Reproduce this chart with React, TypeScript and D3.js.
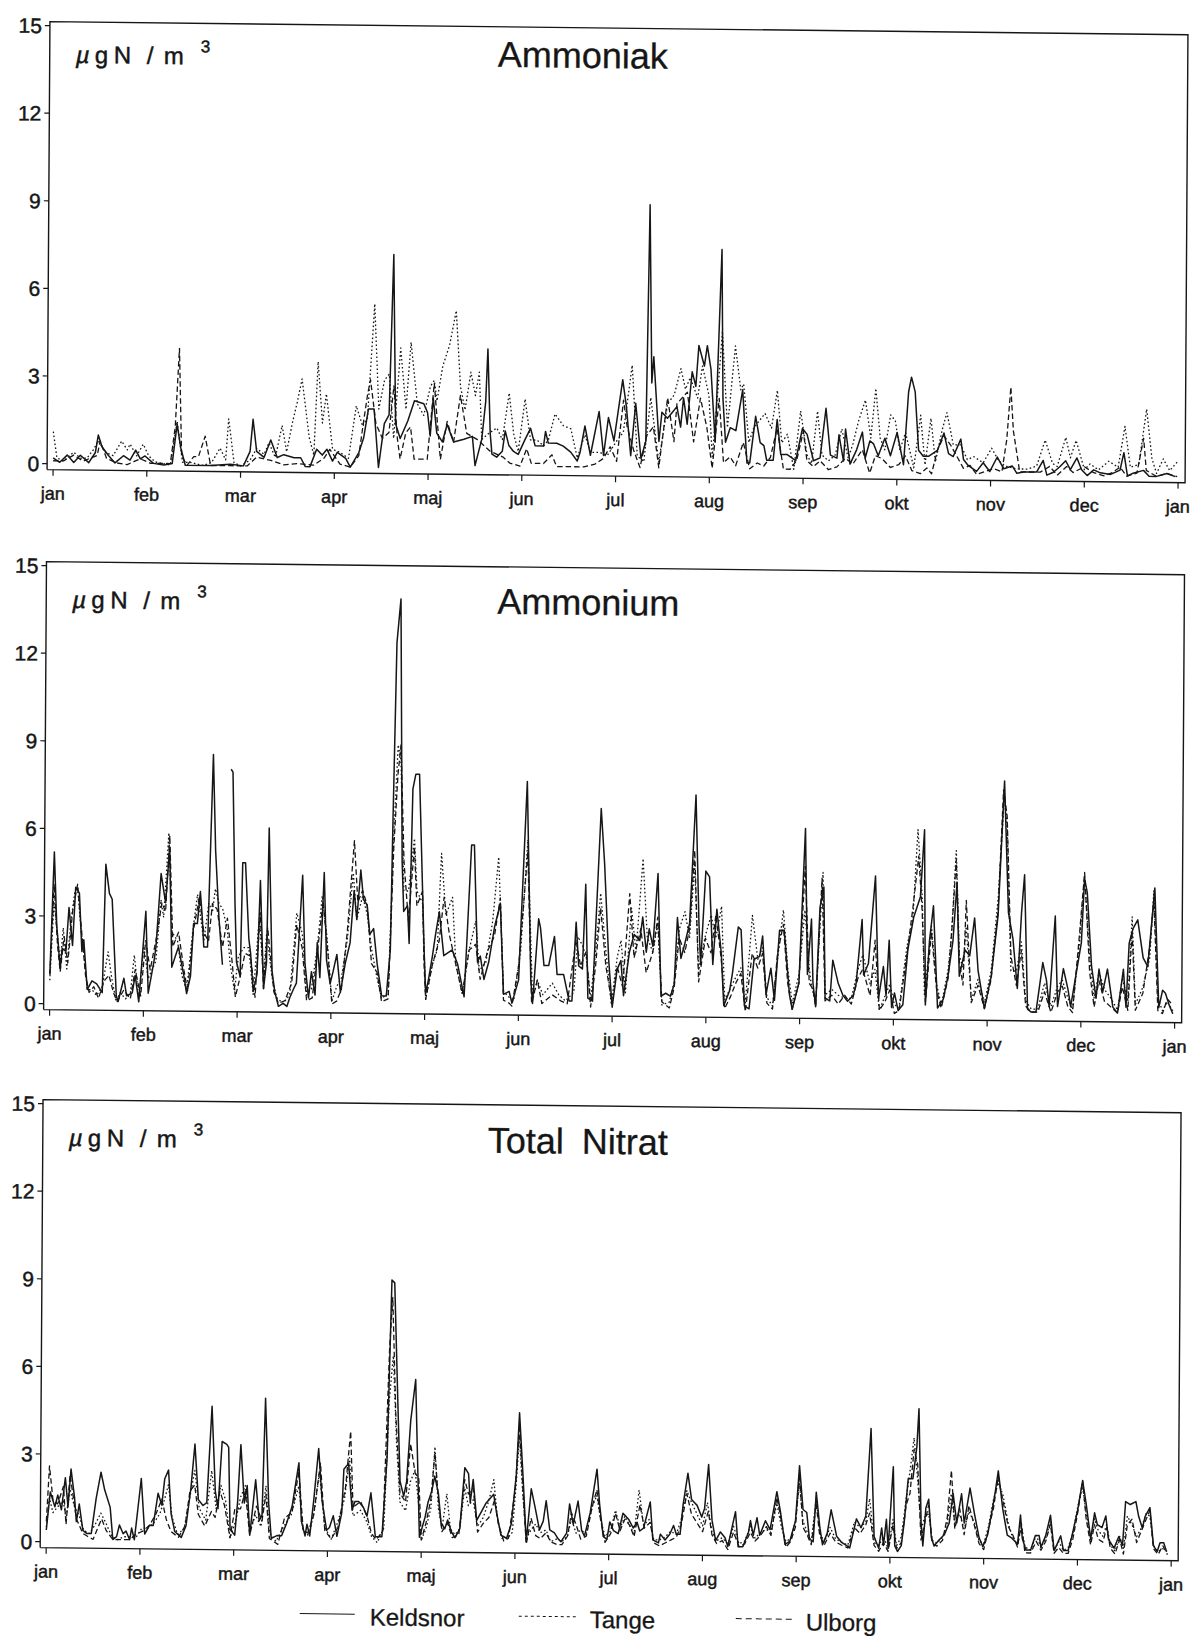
import React from "react";
import * as d3 from "d3";

// ---- data -------------------------------------------------------------
// x = position in months from 1 January (0 = jan, 12 = next jan); y = µgN/m³
type Pt = [number, number | null];

const MONTH_LABELS = ["jan", "feb", "mar", "apr", "maj", "jun", "jul", "aug", "sep", "okt", "nov", "dec", "jan"];
const Y_TICKS = [0, 3, 6, 9, 12, 15];
const STATIONS = ["Keldsnor", "Tange", "Ulborg"];
const TITLES = ["Ammoniak", "Ammonium", "Total Nitrat"];

const ammoniakKeldsnor: Pt[] = [[0.00,0.2],[0.07,0.05],[0.15,0.3],[0.22,0.05],[0.29,0.3],[0.38,0.05],[0.45,0.4],[0.48,1.0],[0.52,0.6],[0.59,0.3],[0.66,0.05],[0.75,0.3],[0.82,0.15],[0.88,0.5],[0.93,0.2],[0.98,0.3],[1.07,0.05],[1.18,0.0],[1.27,0.05],[1.32,1.4],[1.36,0.6],[1.41,0.0],[1.68,0.0],[1.89,0.05],[2.03,0.0],[2.10,0.5],[2.13,1.6],[2.17,0.5],[2.25,0.3],[2.32,0.9],[2.39,0.3],[2.46,0.4],[2.57,0.3],[2.64,0.3],[2.69,0.0],[2.74,0.0],[2.81,0.6],[2.87,0.4],[2.92,0.6],[2.98,0.2],[3.03,0.5],[3.12,0.3],[3.17,0.0],[3.26,0.5],[3.31,1.0],[3.36,2.0],[3.42,2.0],[3.47,0.0],[3.53,1.5],[3.58,1.8],[3.62,7.3],[3.65,1.5],[3.70,1.0],[3.78,1.6],[3.85,2.3],[3.95,2.2],[3.99,1.9],[4.02,1.1],[4.05,2.4],[4.09,1.2],[4.15,0.9],[4.20,1.5],[4.27,0.9],[4.38,1.0],[4.47,1.1],[4.50,0.1],[4.57,1.0],[4.61,2.3],[4.63,4.1],[4.66,1.2],[4.68,0.5],[4.73,0.4],[4.79,0.6],[4.82,1.3],[4.86,0.8],[4.91,0.6],[4.96,0.5],[5.03,1.0],[5.09,1.4],[5.14,0.8],[5.23,0.8],[5.25,1.3],[5.28,0.9],[5.37,0.9],[5.44,0.8],[5.52,0.6],[5.59,0.3],[5.62,0.6],[5.67,1.5],[5.73,0.5],[5.82,2.0],[5.87,0.5],[5.92,1.8],[5.98,1.0],[6.07,3.1],[6.11,2.2],[6.16,0.5],[6.21,2.3],[6.27,0.4],[6.32,1.0],[6.35,9.1],[6.38,3.0],[6.40,3.9],[6.46,1.0],[6.49,2.0],[6.55,1.8],[6.60,2.0],[6.65,2.2],[6.69,1.5],[6.72,2.5],[6.76,1.6],[6.81,3.4],[6.85,2.9],[6.88,4.3],[6.94,3.6],[6.97,4.3],[7.01,3.5],[7.06,1.0],[7.12,7.6],[7.14,2.5],[7.17,1.0],[7.22,1.5],[7.28,1.4],[7.35,2.8],[7.40,0.3],[7.43,0.3],[7.49,1.9],[7.54,1.0],[7.58,0.9],[7.61,0.4],[7.68,0.4],[7.72,1.8],[7.76,0.6],[7.83,0.6],[7.92,0.4],[7.99,1.5],[8.04,1.3],[8.11,0.4],[8.18,0.5],[8.24,2.2],[8.29,0.6],[8.36,0.5],[8.38,1.3],[8.43,0.4],[8.45,1.5],[8.50,0.3],[8.57,0.8],[8.63,1.4],[8.66,0.5],[8.71,1.1],[8.75,1.0],[8.80,0.6],[8.87,1.2],[8.93,0.6],[9.00,1.4],[9.07,0.3],[9.12,2.8],[9.15,3.3],[9.19,2.8],[9.23,0.8],[9.28,0.6],[9.34,0.6],[9.43,0.8],[9.50,1.4],[9.55,0.7],[9.60,0.6],[9.68,1.2],[9.71,0.5],[9.76,0.3],[9.85,0.1],[9.92,0.4],[9.99,0.1],[10.07,0.6],[10.14,0.2],[10.23,0.3],[10.28,0.05],[10.35,0.1],[10.49,0.1],[10.56,0.5],[10.60,0.0],[10.67,0.1],[10.74,0.3],[10.80,0.5],[10.85,0.2],[10.92,0.6],[10.97,0.2],[11.03,0.0],[11.10,0.2],[11.17,0.1],[11.28,0.05],[11.38,0.2],[11.42,0.8],[11.46,0.0],[11.52,0.1],[11.63,0.2],[11.69,0.0],[11.77,0.0],[11.88,0.1],[11.97,0.0]];

const ammoniakTange: Pt[] = [[0.00,1.1],[0.04,0.2],[0.11,0.1],[0.22,0.4],[0.29,0.2],[0.36,0.2],[0.43,0.5],[0.48,0.8],[0.56,0.4],[0.64,0.3],[0.73,0.8],[0.79,0.5],[0.82,0.7],[0.89,0.3],[0.96,0.7],[1.02,0.3],[1.09,0.1],[1.25,0.0],[1.32,1.5],[1.38,0.1],[1.46,0.1],[1.60,0.0],[1.69,0.1],[1.78,0.6],[1.84,0.2],[1.87,1.6],[1.93,0.1],[2.00,0.0],[2.10,0.2],[2.17,0.6],[2.25,0.4],[2.30,0.8],[2.37,0.3],[2.44,1.4],[2.49,0.5],[2.55,1.5],[2.60,2.2],[2.65,3.0],[2.73,1.0],[2.78,0.4],[2.82,3.6],[2.87,1.5],[2.91,2.5],[2.98,0.6],[3.06,0.5],[3.15,0.3],[3.23,2.1],[3.30,1.4],[3.35,1.7],[3.42,5.6],[3.47,2.0],[3.53,3.0],[3.58,3.2],[3.63,1.0],[3.70,4.1],[3.76,2.0],[3.81,4.3],[3.88,2.2],[3.95,1.8],[4.02,2.8],[4.06,3.0],[4.09,2.3],[4.15,3.5],[4.22,4.2],[4.29,5.4],[4.34,2.8],[4.39,2.0],[4.45,3.3],[4.50,2.5],[4.54,3.3],[4.57,1.0],[4.64,1.2],[4.73,1.4],[4.79,1.0],[4.86,2.6],[4.91,1.2],[4.96,0.6],[5.03,2.4],[5.09,1.0],[5.16,1.0],[5.23,0.8],[5.28,1.0],[5.35,1.9],[5.44,1.5],[5.52,1.4],[5.59,0.4],[5.67,1.2],[5.73,0.6],[5.83,0.6],[5.91,0.5],[6.01,1.0],[6.08,1.3],[6.17,3.6],[6.23,0.5],[6.30,0.3],[6.37,2.5],[6.46,0.3],[6.55,2.3],[6.62,2.6],[6.69,3.5],[6.74,2.8],[6.79,3.2],[6.87,2.5],[6.92,3.6],[6.99,2.6],[7.03,0.5],[7.08,2.5],[7.13,4.8],[7.19,1.5],[7.27,4.3],[7.33,2.8],[7.36,3.0],[7.42,1.0],[7.47,1.5],[7.59,2.0],[7.66,1.5],[7.72,2.8],[7.77,1.0],[7.83,1.3],[7.90,0.1],[7.97,2.1],[8.04,0.6],[8.09,0.3],[8.15,2.1],[8.20,0.6],[8.27,0.4],[8.34,0.6],[8.41,1.5],[8.48,0.5],[8.53,1.0],[8.59,1.8],[8.66,2.5],[8.72,1.2],[8.77,2.9],[8.82,1.2],[8.87,0.8],[8.93,2.0],[8.98,1.8],[9.03,0.8],[9.09,1.4],[9.18,0.2],[9.25,2.0],[9.30,0.3],[9.36,1.9],[9.41,0.4],[9.48,1.5],[9.53,2.1],[9.60,1.0],[9.68,1.0],[9.75,0.5],[9.82,0.6],[9.92,0.4],[10.01,0.9],[10.08,0.5],[10.15,0.3],[10.28,0.2],[10.39,0.2],[10.49,0.3],[10.58,1.2],[10.66,0.4],[10.71,0.3],[10.80,1.3],[10.85,0.6],[10.91,1.2],[11.00,0.2],[11.06,0.4],[11.15,0.2],[11.26,0.5],[11.36,0.3],[11.43,1.7],[11.49,0.3],[11.58,0.4],[11.66,2.3],[11.72,0.6],[11.77,0.1],[11.84,0.6],[11.91,0.2],[11.99,0.5]];

const ammoniakUlborg: Pt[] = [[0.00,0.1],[0.11,0.1],[0.22,0.3],[0.32,0.1],[0.47,0.3],[0.50,0.8],[0.57,0.2],[0.68,0.05],[0.79,0.0],[0.86,0.1],[0.93,0.2],[1.04,0.05],[1.25,0.05],[1.30,1.3],[1.34,4.0],[1.37,0.3],[1.43,0.0],[1.50,0.3],[1.55,0.3],[1.62,1.0],[1.68,0.0],[1.89,0.0],[2.07,0.0],[2.17,0.3],[2.32,0.2],[2.46,0.05],[2.60,0.1],[2.78,0.05],[2.89,0.3],[2.95,0.6],[3.06,0.1],[3.17,0.0],[3.26,0.4],[3.31,1.6],[3.35,2.5],[3.38,3.0],[3.44,1.5],[3.51,1.0],[3.58,1.2],[3.63,2.8],[3.67,1.0],[3.70,0.3],[3.76,1.2],[3.81,1.4],[3.85,0.3],[3.99,0.3],[4.06,2.9],[4.13,0.3],[4.20,1.6],[4.27,0.9],[4.34,2.5],[4.41,1.2],[4.52,1.0],[4.66,0.6],[4.80,0.4],[4.87,0.2],[4.98,0.1],[5.05,0.7],[5.10,0.2],[5.23,0.2],[5.32,0.5],[5.37,0.1],[5.52,0.1],[5.66,0.1],[5.78,0.2],[5.87,0.4],[5.94,0.8],[6.01,0.3],[6.08,2.4],[6.12,1.5],[6.19,0.7],[6.26,0.1],[6.33,1.2],[6.40,1.5],[6.46,0.1],[6.55,2.5],[6.62,1.0],[6.65,2.3],[6.76,2.7],[6.83,1.0],[6.90,2.5],[6.97,1.5],[7.03,0.1],[7.10,2.5],[7.15,0.3],[7.22,0.5],[7.28,0.2],[7.36,1.0],[7.43,0.1],[7.51,0.3],[7.58,0.2],[7.65,0.5],[7.72,1.5],[7.79,0.1],[7.86,0.1],[7.93,0.4],[8.00,1.4],[8.04,0.4],[8.11,0.2],[8.18,0.4],[8.27,0.1],[8.36,0.2],[8.45,0.5],[8.53,0.3],[8.63,0.8],[8.71,0.0],[8.77,0.6],[8.84,0.5],[8.93,0.2],[9.02,0.3],[9.09,0.6],[9.16,0.1],[9.25,0.0],[9.32,0.2],[9.37,0.0],[9.43,0.8],[9.50,1.3],[9.57,1.0],[9.64,0.6],[9.71,0.2],[9.78,0.3],[9.85,0.0],[9.94,0.1],[10.03,0.2],[10.12,0.1],[10.17,1.2],[10.21,3.0],[10.24,1.5],[10.31,0.1],[10.42,0.1],[10.53,0.1],[10.63,0.3],[10.71,0.0],[10.81,0.3],[10.88,0.1],[11.00,0.3],[11.10,0.1],[11.21,0.0],[11.29,0.1],[11.38,0.3],[11.45,0.0],[11.56,0.1],[11.63,1.3],[11.66,0.2],[11.77,0.0],[11.88,0.1],[11.99,0.0]];

const ammoniumKeldsnor: Pt[] = [[0.00,1.0],[0.04,5.2],[0.07,2.7],[0.11,1.2],[0.13,1.9],[0.17,1.8],[0.20,3.3],[0.24,2.0],[0.27,4.0],[0.31,3.8],[0.34,1.8],[0.36,2.2],[0.40,0.5],[0.45,0.8],[0.50,0.7],[0.56,0.4],[0.59,4.8],[0.63,3.8],[0.66,3.6],[0.71,0.3],[0.73,0.1],[0.79,0.9],[0.82,0.3],[0.88,0.4],[0.91,1.0],[0.95,0.1],[1.02,3.2],[1.05,0.4],[1.11,1.5],[1.13,2.0],[1.18,4.5],[1.23,3.5],[1.27,5.4],[1.30,1.3],[1.37,2.0],[1.43,1.0],[1.46,0.4],[1.50,1.0],[1.53,2.8],[1.57,2.8],[1.60,3.9],[1.62,3.1],[1.64,2.0],[1.68,2.0],[1.73,8.6],[1.76,5.3],[1.80,3.0],[1.84,1.4],[1.88,null],[1.92,8.1],[1.94,8.0],[1.97,3.5],[1.99,1.5],[2.03,1.0],[2.05,4.9],[2.08,4.9],[2.12,2.3],[2.14,1.8],[2.17,0.5],[2.21,1.1],[2.24,4.3],[2.28,0.6],[2.31,1.5],[2.33,6.1],[2.37,1.2],[2.40,0.5],[2.44,0.0],[2.49,0.1],[2.53,0.0],[2.56,0.3],[2.60,0.6],[2.63,0.8],[2.69,4.5],[2.72,1.5],[2.76,0.3],[2.79,1.2],[2.83,0.4],[2.85,2.2],[2.88,1.0],[2.92,4.6],[2.95,1.6],[2.99,0.8],[3.02,1.2],[3.06,1.8],[3.10,0.5],[3.15,1.5],[3.20,2.2],[3.24,4.0],[3.27,3.0],[3.31,4.7],[3.34,3.7],[3.38,3.5],[3.41,2.5],[3.45,2.7],[3.49,1.5],[3.54,0.4],[3.59,0.4],[3.63,2.0],[3.65,6.5],[3.68,12.5],[3.72,14.0],[3.75,5.0],[3.77,3.3],[3.81,3.5],[3.83,2.2],[3.86,7.5],[3.89,8.0],[3.93,8.0],[3.97,4.0],[3.99,2.0],[4.01,0.5],[4.04,1.0],[4.08,1.8],[4.11,2.5],[4.15,3.3],[4.20,1.8],[4.29,2.0],[4.35,1.5],[4.42,0.4],[4.49,5.6],[4.52,5.6],[4.56,1.6],[4.59,1.8],[4.63,1.0],[4.68,1.6],[4.74,2.8],[4.80,3.6],[4.84,0.5],[4.90,0.6],[4.93,0.2],[5.00,1.0],[5.08,7.8],[5.13,1.0],[5.15,0.2],[5.21,3.1],[5.23,2.8],[5.27,1.5],[5.32,1.5],[5.38,2.5],[5.41,1.2],[5.48,1.2],[5.54,0.3],[5.57,0.3],[5.61,3.0],[5.64,1.5],[5.68,1.4],[5.71,4.3],[5.74,0.4],[5.79,0.3],[5.80,1.3],[5.87,6.9],[5.91,5.0],[5.96,1.7],[6.00,0.1],[6.05,1.4],[6.09,1.7],[6.12,0.5],[6.18,2.0],[6.23,2.6],[6.29,2.4],[6.32,3.2],[6.36,2.0],[6.39,2.8],[6.43,2.2],[6.48,4.7],[6.52,0.5],[6.57,0.6],[6.62,0.5],[6.66,0.9],[6.69,3.2],[6.73,1.8],[6.77,2.3],[6.82,3.0],[6.88,7.4],[6.92,3.0],[6.94,1.6],[6.99,4.8],[7.03,4.6],[7.07,1.6],[7.11,3.5],[7.16,2.0],[7.19,0.2],[7.25,0.7],[7.28,1.3],[7.34,2.9],[7.37,2.8],[7.41,0.2],[7.46,0.1],[7.51,1.8],[7.57,1.9],[7.60,2.6],[7.64,0.6],[7.69,1.5],[7.73,0.4],[7.78,2.8],[7.83,2.8],[7.89,0.6],[7.92,0.1],[7.99,1.0],[8.05,6.3],[8.08,1.3],[8.12,3.2],[8.14,1.0],[8.17,0.2],[8.21,3.6],[8.25,4.3],[8.27,0.5],[8.32,0.4],[8.35,1.8],[8.41,1.0],[8.46,0.6],[8.51,0.4],[8.57,0.6],[8.60,1.0],[8.66,3.2],[8.68,1.3],[8.73,1.7],[8.80,4.7],[8.84,0.5],[8.89,1.6],[8.92,0.6],[8.95,2.5],[8.98,0.2],[9.01,0.7],[9.05,0.1],[9.10,0.3],[9.15,2.2],[9.21,3.3],[9.28,4.0],[9.32,6.3],[9.34,0.3],[9.38,2.5],[9.42,3.7],[9.47,0.2],[9.53,0.5],[9.58,1.3],[9.63,2.5],[9.67,4.5],[9.70,1.3],[9.76,2.2],[9.81,2.0],[9.86,3.3],[9.90,1.5],[9.97,0.2],[10.04,1.3],[10.11,3.4],[10.17,8.0],[10.22,3.5],[10.27,2.6],[10.32,0.9],[10.36,3.5],[10.39,4.8],[10.43,0.2],[10.47,0.1],[10.52,0.1],[10.59,1.8],[10.63,1.2],[10.66,0.3],[10.72,3.4],[10.75,0.3],[10.81,1.6],[10.86,0.9],[10.89,0.3],[10.95,1.5],[11.00,2.5],[11.03,4.7],[11.06,4.2],[11.11,1.7],[11.16,0.6],[11.19,1.6],[11.23,0.8],[11.28,1.6],[11.34,0.3],[11.39,0.1],[11.45,1.6],[11.48,0.3],[11.51,2.5],[11.55,3.0],[11.60,3.3],[11.66,2.0],[11.71,1.7],[11.78,4.4],[11.83,0.3],[11.87,0.9],[11.90,0.8],[11.94,0.4],[11.98,0.1]];

const ammoniumTange: Pt[] = [[0.00,0.8],[0.04,3.5],[0.07,2.6],[0.11,1.4],[0.14,2.6],[0.18,1.2],[0.22,2.8],[0.26,3.8],[0.29,4.0],[0.33,2.5],[0.36,1.8],[0.40,0.5],[0.45,0.5],[0.50,0.3],[0.56,0.6],[0.62,1.8],[0.66,0.9],[0.71,0.1],[0.75,0.4],[0.81,0.2],[0.86,0.4],[0.90,1.7],[0.95,0.2],[1.00,2.0],[1.05,0.9],[1.13,1.5],[1.18,3.6],[1.21,3.0],[1.26,5.9],[1.30,2.5],[1.36,2.2],[1.41,1.0],[1.46,0.5],[1.52,2.5],[1.57,3.8],[1.64,2.2],[1.69,3.5],[1.73,3.2],[1.76,4.0],[1.80,3.5],[1.84,3.3],[1.89,2.6],[1.92,1.5],[1.97,0.5],[2.01,1.7],[2.07,2.0],[2.12,2.0],[2.17,0.4],[2.23,3.0],[2.28,1.0],[2.31,2.5],[2.37,1.0],[2.42,0.3],[2.49,0.1],[2.56,0.4],[2.63,3.2],[2.69,2.5],[2.74,0.4],[2.79,0.6],[2.85,2.0],[2.90,3.8],[2.95,2.5],[3.01,0.2],[3.06,0.7],[3.11,1.0],[3.17,2.3],[3.23,4.6],[3.27,3.0],[3.33,3.8],[3.38,3.2],[3.43,2.0],[3.49,1.0],[3.54,0.3],[3.61,0.5],[3.66,6.0],[3.70,9.0],[3.73,8.5],[3.77,4.0],[3.82,4.0],[3.88,5.8],[3.91,4.0],[3.97,3.6],[3.99,2.0],[4.01,0.3],[4.08,1.5],[4.13,2.0],[4.17,5.3],[4.22,3.2],[4.29,3.8],[4.33,1.5],[4.40,0.5],[4.47,2.0],[4.54,3.0],[4.58,1.3],[4.65,1.6],[4.72,3.0],[4.78,5.2],[4.84,0.6],[4.90,0.4],[4.95,0.3],[5.02,2.0],[5.09,5.8],[5.15,0.3],[5.20,1.0],[5.26,0.5],[5.36,0.9],[5.43,0.5],[5.50,0.3],[5.59,0.6],[5.63,2.5],[5.68,2.2],[5.72,1.8],[5.77,0.4],[5.82,2.0],[5.87,4.0],[5.93,2.0],[5.99,0.2],[6.05,1.8],[6.09,2.4],[6.14,0.6],[6.20,3.5],[6.25,2.0],[6.32,5.2],[6.37,2.5],[6.43,2.0],[6.48,3.0],[6.53,0.2],[6.61,0.3],[6.66,1.0],[6.71,2.8],[6.77,3.4],[6.82,2.5],[6.87,5.0],[6.92,1.4],[6.99,2.6],[7.05,3.3],[7.10,2.5],[7.16,3.6],[7.20,0.4],[7.26,0.8],[7.32,1.2],[7.37,1.5],[7.42,0.3],[7.49,3.3],[7.55,1.8],[7.60,2.2],[7.65,0.5],[7.71,0.2],[7.76,1.8],[7.82,3.5],[7.87,1.5],[7.92,0.3],[7.99,1.3],[8.05,3.5],[8.10,1.5],[8.12,1.0],[8.17,0.3],[8.24,4.8],[8.27,0.6],[8.34,0.8],[8.41,0.6],[8.48,0.5],[8.55,0.5],[8.62,1.5],[8.67,2.0],[8.75,1.0],[8.80,1.5],[8.85,0.1],[8.91,0.6],[8.96,1.0],[9.01,0.3],[9.06,0.2],[9.14,2.3],[9.20,3.2],[9.25,6.3],[9.30,4.0],[9.33,0.6],[9.40,3.0],[9.46,1.0],[9.51,0.3],[9.58,1.5],[9.61,2.5],[9.66,5.6],[9.70,2.0],[9.74,1.6],[9.77,3.0],[9.83,0.5],[9.90,1.2],[9.97,0.4],[10.04,1.5],[10.11,4.0],[10.17,7.5],[10.20,6.5],[10.25,1.5],[10.31,1.5],[10.36,2.5],[10.41,0.5],[10.47,0.2],[10.54,0.2],[10.61,1.1],[10.68,0.3],[10.75,1.0],[10.80,1.2],[10.86,0.6],[10.91,0.2],[10.98,2.5],[11.03,4.8],[11.09,2.0],[11.14,0.6],[11.19,1.5],[11.25,0.9],[11.32,0.6],[11.39,0.2],[11.44,1.3],[11.50,0.5],[11.54,3.4],[11.58,0.4],[11.66,1.0],[11.73,2.0],[11.77,4.3],[11.82,0.6],[11.87,0.2],[11.92,0.5],[11.98,0.2]];

const ammoniumUlborg: Pt[] = [[0.00,1.0],[0.04,4.1],[0.08,2.0],[0.11,1.1],[0.15,2.3],[0.19,1.4],[0.24,3.2],[0.29,4.1],[0.33,2.7],[0.38,1.0],[0.42,0.4],[0.47,0.6],[0.52,0.2],[0.58,0.8],[0.63,1.0],[0.68,0.4],[0.72,0.1],[0.79,0.5],[0.86,0.2],[0.91,1.2],[0.97,0.3],[1.02,2.2],[1.07,1.2],[1.14,2.4],[1.19,3.5],[1.23,3.2],[1.27,5.8],[1.31,2.0],[1.37,2.5],[1.43,1.2],[1.47,0.5],[1.53,2.6],[1.59,3.7],[1.64,2.5],[1.69,2.2],[1.73,3.5],[1.78,3.3],[1.84,2.0],[1.89,3.0],[1.94,1.6],[1.98,0.3],[2.03,1.0],[2.08,1.8],[2.14,1.7],[2.19,0.3],[2.24,3.2],[2.28,0.6],[2.32,2.7],[2.39,0.5],[2.44,0.1],[2.51,0.2],[2.58,0.8],[2.63,2.8],[2.69,2.0],[2.74,0.2],[2.80,0.3],[2.85,1.8],[2.91,3.6],[2.96,2.0],[3.01,0.1],[3.06,0.2],[3.11,0.6],[3.17,2.6],[3.24,5.7],[3.28,3.6],[3.33,4.0],[3.38,3.5],[3.43,1.5],[3.49,1.2],[3.54,0.2],[3.61,0.3],[3.66,5.5],[3.70,8.0],[3.73,9.0],[3.77,5.0],[3.82,3.0],[3.88,5.5],[3.91,3.5],[3.97,4.0],[3.99,1.5],[4.01,0.3],[4.08,1.5],[4.15,2.3],[4.20,3.8],[4.26,2.5],[4.33,1.5],[4.40,0.5],[4.47,2.0],[4.54,2.2],[4.59,1.0],[4.67,2.0],[4.74,2.5],[4.80,3.8],[4.84,0.3],[4.90,0.2],[4.93,0.1],[5.00,1.5],[5.09,5.4],[5.14,0.2],[5.20,1.0],[5.25,0.2],[5.36,0.5],[5.45,0.3],[5.52,0.2],[5.61,2.4],[5.66,1.5],[5.72,2.0],[5.77,0.1],[5.82,1.5],[5.87,3.5],[5.93,1.5],[6.00,0.2],[6.05,1.5],[6.11,0.8],[6.18,4.0],[6.23,1.8],[6.30,2.8],[6.36,1.3],[6.43,2.0],[6.48,3.2],[6.53,0.3],[6.61,0.1],[6.66,0.8],[6.71,2.5],[6.77,2.0],[6.82,2.8],[6.87,5.5],[6.92,1.0],[6.99,2.5],[7.05,2.0],[7.10,3.3],[7.16,1.8],[7.20,0.1],[7.26,0.5],[7.32,1.0],[7.37,1.3],[7.42,0.0],[7.49,2.0],[7.55,1.5],[7.60,2.0],[7.65,0.3],[7.71,0.1],[7.76,2.0],[7.82,3.0],[7.87,1.0],[7.92,0.1],[7.99,1.0],[8.05,5.0],[8.10,1.0],[8.14,0.8],[8.17,0.2],[8.23,4.6],[8.27,0.4],[8.34,0.6],[8.41,0.3],[8.48,0.6],[8.55,0.3],[8.62,1.2],[8.67,1.5],[8.75,0.6],[8.80,2.5],[8.85,0.1],[8.91,0.4],[8.96,0.8],[9.01,0.0],[9.06,0.1],[9.14,2.0],[9.20,3.6],[9.26,5.4],[9.30,3.5],[9.34,0.4],[9.40,2.8],[9.46,0.8],[9.51,0.2],[9.58,1.2],[9.62,3.0],[9.66,5.3],[9.70,1.8],[9.74,1.0],[9.77,3.9],[9.83,0.4],[9.90,1.0],[9.97,0.2],[10.04,1.2],[10.11,3.6],[10.16,7.7],[10.20,6.8],[10.25,2.0],[10.31,1.0],[10.36,2.2],[10.41,0.3],[10.47,0.1],[10.54,0.1],[10.61,0.8],[10.68,0.1],[10.75,0.8],[10.80,1.0],[10.86,0.3],[10.91,0.1],[10.98,2.8],[11.03,4.9],[11.09,1.5],[11.14,0.3],[11.19,1.2],[11.25,0.5],[11.32,0.3],[11.39,0.1],[11.44,1.0],[11.50,0.2],[11.54,2.9],[11.58,0.2],[11.66,0.8],[11.73,2.4],[11.77,4.0],[11.82,0.2],[11.87,0.1],[11.92,0.6],[11.98,0.4]];

const nitratKeldsnor: Pt[] = [[0.00,0.4],[0.04,1.7],[0.09,1.2],[0.12,1.6],[0.16,1.1],[0.20,2.2],[0.23,1.2],[0.26,2.5],[0.30,1.5],[0.32,0.7],[0.35,1.3],[0.39,0.4],[0.43,0.3],[0.48,0.3],[0.53,1.5],[0.58,2.4],[0.62,1.8],[0.68,1.2],[0.71,0.1],[0.75,0.2],[0.78,0.6],[0.82,0.3],[0.85,0.4],[0.89,0.1],[0.91,0.5],[0.94,0.1],[1.01,2.2],[1.05,0.3],[1.10,0.6],[1.14,0.6],[1.19,1.7],[1.23,1.3],[1.26,2.2],[1.30,2.5],[1.33,1.0],[1.37,0.4],[1.44,0.2],[1.49,0.6],[1.54,1.9],[1.58,3.4],[1.62,1.5],[1.67,1.3],[1.71,1.4],[1.76,4.7],[1.80,1.8],[1.83,1.2],[1.87,3.5],[1.92,3.4],[1.94,3.3],[1.96,0.5],[2.01,0.3],[2.04,1.5],[2.07,3.4],[2.11,1.4],[2.14,2.0],[2.17,0.3],[2.23,2.2],[2.27,0.8],[2.30,1.0],[2.33,5.0],[2.37,1.4],[2.40,0.2],[2.46,0.3],[2.51,0.3],[2.56,0.7],[2.62,1.3],[2.69,2.8],[2.72,0.8],[2.76,0.3],[2.78,0.7],[2.81,0.3],[2.85,1.5],[2.90,3.3],[2.94,1.5],[2.99,0.5],[3.02,0.6],[3.06,1.0],[3.10,0.3],[3.15,1.1],[3.17,2.6],[3.22,2.8],[3.26,1.2],[3.29,1.5],[3.33,1.5],[3.38,1.3],[3.42,1.0],[3.46,1.8],[3.51,0.3],[3.54,0.3],[3.58,0.3],[3.63,3.0],[3.67,9.1],[3.70,9.0],[3.74,5.0],[3.77,2.2],[3.81,1.7],[3.84,2.2],[3.88,4.3],[3.93,5.7],[3.95,3.5],[3.98,0.3],[4.04,1.0],[4.07,1.5],[4.11,1.9],[4.14,2.4],[4.18,1.8],[4.21,0.8],[4.25,0.6],[4.28,0.9],[4.32,0.5],[4.36,0.3],[4.41,0.6],[4.46,2.7],[4.50,2.5],[4.52,1.5],[4.55,2.3],[4.59,0.9],[4.64,1.2],[4.69,1.5],[4.77,1.8],[4.80,1.2],[4.85,0.4],[4.91,0.3],[4.96,0.8],[5.01,2.5],[5.04,4.6],[5.08,2.5],[5.12,0.2],[5.17,2.0],[5.21,1.4],[5.26,0.6],[5.30,0.9],[5.33,1.6],[5.37,0.6],[5.42,0.5],[5.46,0.3],[5.49,0.2],[5.55,0.5],[5.58,1.5],[5.62,0.8],[5.67,1.6],[5.71,0.6],[5.74,0.4],[5.80,1.2],[5.87,2.7],[5.90,1.5],[5.94,0.4],[5.98,0.3],[6.01,0.9],[6.05,0.6],[6.10,0.5],[6.15,1.2],[6.21,1.0],[6.26,0.7],[6.30,0.9],[6.33,0.6],[6.37,0.7],[6.44,1.6],[6.47,0.3],[6.53,0.2],[6.55,0.5],[6.60,0.3],[6.65,0.5],[6.69,0.8],[6.72,0.5],[6.76,0.5],[6.79,1.5],[6.84,2.6],[6.88,1.7],[6.94,1.5],[6.99,1.1],[7.02,1.4],[7.06,2.9],[7.10,1.0],[7.14,0.3],[7.19,0.6],[7.24,0.4],[7.27,0.1],[7.35,1.3],[7.38,0.1],[7.43,0.1],[7.49,0.6],[7.51,1.0],[7.54,0.5],[7.58,1.1],[7.61,0.5],[7.67,1.0],[7.72,0.7],[7.79,2.0],[7.83,1.3],[7.88,0.2],[7.93,0.3],[7.99,1.0],[8.03,2.9],[8.07,1.4],[8.11,1.3],[8.14,0.4],[8.18,0.3],[8.21,2.0],[8.25,0.8],[8.28,0.2],[8.33,0.6],[8.37,1.4],[8.43,0.5],[8.48,0.3],[8.53,0.2],[8.57,0.1],[8.64,1.1],[8.69,0.8],[8.74,1.2],[8.79,4.2],[8.83,0.5],[8.88,0.1],[8.91,0.8],[8.93,0.2],[8.96,1.1],[8.98,0.1],[9.03,2.9],[9.05,0.2],[9.08,0.0],[9.12,0.2],[9.15,1.0],[9.19,2.5],[9.24,2.5],[9.28,3.6],[9.30,4.9],[9.33,1.0],[9.35,0.2],[9.38,1.5],[9.41,1.8],[9.44,0.5],[9.47,0.2],[9.52,0.4],[9.58,0.6],[9.63,1.0],[9.67,2.0],[9.71,1.0],[9.76,2.0],[9.79,1.0],[9.85,2.2],[9.90,1.3],[9.95,0.5],[9.99,0.2],[10.04,0.6],[10.09,1.5],[10.12,2.1],[10.15,2.8],[10.20,1.5],[10.25,0.6],[10.30,0.5],[10.36,0.3],[10.39,1.3],[10.41,0.5],[10.45,0.1],[10.50,0.1],[10.55,0.6],[10.59,0.6],[10.61,0.2],[10.66,0.6],[10.71,1.3],[10.75,0.1],[10.78,0.3],[10.82,0.6],[10.85,0.1],[10.90,0.1],[10.94,0.6],[11.00,1.5],[11.05,2.5],[11.09,1.7],[11.14,0.5],[11.18,1.4],[11.21,1.0],[11.26,0.9],[11.30,1.3],[11.33,0.5],[11.39,0.2],[11.44,0.6],[11.48,0.3],[11.51,1.8],[11.56,1.7],[11.62,1.8],[11.65,1.3],[11.69,0.9],[11.72,1.3],[11.77,1.6],[11.81,0.3],[11.85,0.1],[11.88,0.4],[11.92,0.4],[11.95,0.1]];

const nitratTange: Pt[] = [[0.00,0.5],[0.03,1.5],[0.07,1.0],[0.12,1.2],[0.18,1.4],[0.21,0.8],[0.25,1.8],[0.30,1.2],[0.35,0.9],[0.40,0.4],[0.46,0.3],[0.52,0.6],[0.58,1.0],[0.63,0.7],[0.70,0.2],[0.76,0.1],[0.83,0.2],[0.90,0.2],[0.96,0.2],[1.02,0.5],[1.08,0.5],[1.15,0.7],[1.21,1.0],[1.26,1.5],[1.30,2.0],[1.34,0.9],[1.40,0.3],[1.47,0.5],[1.53,1.6],[1.58,2.5],[1.63,1.2],[1.70,0.8],[1.76,2.5],[1.81,1.2],[1.86,2.0],[1.91,1.5],[1.96,0.2],[2.02,0.8],[2.07,1.6],[2.12,2.0],[2.17,0.4],[2.23,1.0],[2.29,0.6],[2.34,2.0],[2.38,0.4],[2.45,0.1],[2.53,0.6],[2.61,1.0],[2.69,2.0],[2.74,0.5],[2.80,0.3],[2.86,1.2],[2.91,2.5],[2.97,0.6],[3.04,0.2],[3.11,0.8],[3.18,1.6],[3.23,3.0],[3.27,1.0],[3.35,1.2],[3.42,0.8],[3.47,0.3],[3.53,0.1],[3.60,0.6],[3.65,5.0],[3.69,6.5],[3.73,3.5],[3.77,1.5],[3.83,1.2],[3.88,2.2],[3.93,2.6],[3.97,1.4],[4.00,0.2],[4.05,0.6],[4.10,1.3],[4.14,3.4],[4.18,1.3],[4.22,0.6],[4.27,1.8],[4.31,0.6],[4.36,0.4],[4.41,0.6],[4.46,2.0],[4.50,1.4],[4.55,1.6],[4.60,0.7],[4.66,1.0],[4.72,1.6],[4.77,2.3],[4.81,1.0],[4.86,0.3],[4.92,0.3],[4.97,0.5],[5.01,2.2],[5.04,3.8],[5.08,1.8],[5.12,0.3],[5.17,0.6],[5.22,0.8],[5.27,0.5],[5.33,0.6],[5.38,0.2],[5.45,0.3],[5.50,0.2],[5.56,0.4],[5.60,1.0],[5.65,0.5],[5.70,0.6],[5.76,0.5],[5.82,1.4],[5.87,1.8],[5.91,1.0],[5.96,0.4],[6.02,0.6],[6.07,1.3],[6.12,0.7],[6.17,1.1],[6.22,0.8],[6.27,0.5],[6.32,2.0],[6.37,0.8],[6.43,1.0],[6.48,0.3],[6.54,0.3],[6.60,0.4],[6.66,0.6],[6.72,0.5],[6.77,1.0],[6.83,2.0],[6.88,1.6],[6.94,1.2],[7.00,0.8],[7.05,1.6],[7.10,0.6],[7.15,0.3],[7.21,0.4],[7.27,0.2],[7.33,0.8],[7.39,0.2],[7.45,0.3],[7.51,0.8],[7.56,0.4],[7.62,0.6],[7.68,0.7],[7.73,0.6],[7.79,1.6],[7.84,0.8],[7.89,0.3],[7.94,0.4],[7.99,1.0],[8.03,2.3],[8.07,1.0],[8.12,0.6],[8.16,0.3],[8.21,1.8],[8.25,0.6],[8.30,0.3],[8.36,0.8],[8.42,0.4],[8.48,0.3],[8.55,0.2],[8.62,1.0],[8.68,0.8],[8.74,1.0],[8.78,1.8],[8.83,0.3],[8.88,0.2],[8.93,0.5],[8.98,0.1],[9.03,1.1],[9.07,0.2],[9.12,0.5],[9.17,1.8],[9.21,2.8],[9.25,3.9],[9.29,2.5],[9.33,0.8],[9.37,1.2],[9.41,1.3],[9.45,0.4],[9.50,0.3],[9.56,0.5],[9.61,1.0],[9.65,2.0],[9.69,1.0],[9.74,1.3],[9.79,0.8],[9.84,1.4],[9.90,1.0],[9.95,0.4],[10.00,0.3],[10.05,0.9],[10.10,1.8],[10.15,2.4],[10.20,2.0],[10.26,1.0],[10.31,0.5],[10.36,0.3],[10.40,0.9],[10.44,0.2],[10.50,0.1],[10.56,0.6],[10.61,0.2],[10.66,0.5],[10.71,1.1],[10.75,0.1],[10.80,0.4],[10.85,0.1],[10.90,0.2],[10.95,0.7],[11.00,1.6],[11.05,2.3],[11.09,1.4],[11.14,0.5],[11.18,1.2],[11.22,0.8],[11.27,0.6],[11.31,1.0],[11.35,0.3],[11.40,0.1],[11.45,0.6],[11.49,0.2],[11.53,1.3],[11.58,1.0],[11.63,0.6],[11.68,0.9],[11.73,1.4],[11.77,1.3],[11.81,0.3],[11.86,0.1],[11.91,0.2],[11.96,0.1]];

const nitratUlborg: Pt[] = [[0.00,0.7],[0.03,2.6],[0.07,1.4],[0.12,1.3],[0.18,1.9],[0.21,0.6],[0.25,2.3],[0.32,0.8],[0.39,0.3],[0.44,0.2],[0.50,0.1],[0.55,0.5],[0.59,0.8],[0.64,0.4],[0.71,0.1],[0.78,0.1],[0.89,0.1],[0.96,0.3],[1.03,0.4],[1.10,0.6],[1.17,1.0],[1.23,1.5],[1.28,0.8],[1.33,0.4],[1.41,0.2],[1.48,0.6],[1.53,1.8],[1.58,2.0],[1.62,1.0],[1.69,0.6],[1.76,1.1],[1.80,0.9],[1.85,1.8],[1.90,1.3],[1.96,0.2],[2.01,1.2],[2.07,1.2],[2.12,1.8],[2.17,0.3],[2.24,1.3],[2.30,0.8],[2.34,1.7],[2.38,0.2],[2.47,0.0],[2.54,0.9],[2.62,1.1],[2.69,2.5],[2.74,0.5],[2.79,0.4],[2.85,1.0],[2.92,2.8],[2.97,0.5],[3.04,0.2],[3.11,0.6],[3.19,2.0],[3.24,3.9],[3.27,1.3],[3.35,1.5],[3.42,1.0],[3.47,0.4],[3.52,0.2],[3.59,0.5],[3.65,6.8],[3.68,8.5],[3.72,4.5],[3.77,1.8],[3.83,1.5],[3.88,3.5],[3.93,2.5],[3.97,2.3],[4.00,0.2],[4.05,0.8],[4.10,1.6],[4.14,3.2],[4.18,1.6],[4.22,0.5],[4.28,0.8],[4.33,0.3],[4.40,0.4],[4.46,2.3],[4.50,1.8],[4.55,2.0],[4.60,0.5],[4.66,0.8],[4.72,1.0],[4.78,1.6],[4.82,0.8],[4.88,0.2],[4.93,0.3],[5.00,2.0],[5.04,4.2],[5.08,2.0],[5.12,0.1],[5.17,1.0],[5.22,0.4],[5.27,0.3],[5.33,0.5],[5.38,0.2],[5.45,0.1],[5.50,0.1],[5.56,0.4],[5.60,1.2],[5.65,0.8],[5.70,0.3],[5.76,0.4],[5.82,1.4],[5.87,2.0],[5.91,1.0],[5.96,0.2],[6.02,0.5],[6.07,1.2],[6.12,0.6],[6.17,1.0],[6.22,0.8],[6.27,0.4],[6.33,1.5],[6.38,0.7],[6.44,0.9],[6.48,0.2],[6.54,0.1],[6.60,0.2],[6.66,0.3],[6.72,0.4],[6.77,0.8],[6.83,1.9],[6.88,1.2],[6.94,0.9],[7.00,0.6],[7.06,1.3],[7.10,0.5],[7.15,0.2],[7.21,0.3],[7.27,0.0],[7.33,0.6],[7.39,0.1],[7.45,0.2],[7.51,0.6],[7.56,0.3],[7.62,0.5],[7.68,0.8],[7.73,0.5],[7.79,1.8],[7.84,1.0],[7.89,0.1],[7.94,0.3],[7.99,0.8],[8.03,2.6],[8.07,0.8],[8.12,0.5],[8.16,0.2],[8.21,1.6],[8.25,0.5],[8.30,0.2],[8.36,0.6],[8.42,0.3],[8.48,0.2],[8.55,0.1],[8.62,0.8],[8.68,0.6],[8.74,0.9],[8.78,1.3],[8.83,0.2],[8.88,0.0],[8.93,0.3],[8.98,0.0],[9.03,0.9],[9.07,0.1],[9.12,0.3],[9.17,1.6],[9.21,2.0],[9.25,3.5],[9.29,3.0],[9.33,0.4],[9.37,1.0],[9.41,1.6],[9.45,0.3],[9.50,0.2],[9.56,0.4],[9.61,1.2],[9.65,2.8],[9.69,0.8],[9.74,1.5],[9.79,0.6],[9.84,1.6],[9.90,0.9],[9.95,0.3],[10.00,0.1],[10.05,0.8],[10.10,1.5],[10.15,2.6],[10.20,1.8],[10.26,0.9],[10.31,0.6],[10.36,0.2],[10.40,1.0],[10.44,0.0],[10.50,0.0],[10.56,0.4],[10.61,0.1],[10.66,0.4],[10.71,1.0],[10.75,0.0],[10.80,0.2],[10.85,0.0],[10.90,0.0],[10.95,0.5],[11.00,1.4],[11.05,2.5],[11.09,1.2],[11.14,0.3],[11.18,1.0],[11.22,0.5],[11.27,0.4],[11.31,0.9],[11.35,0.2],[11.40,0.0],[11.45,0.5],[11.49,0.0],[11.53,1.0],[11.58,1.2],[11.63,0.4],[11.68,0.8],[11.73,1.2],[11.77,1.5],[11.81,0.2],[11.86,0.0],[11.91,0.3],[11.96,0.0]];

// ---- layout -----------------------------------------------------------
const W = 1195;
const H = 1636;
const FONT = "'Liberation Sans', Arial, Helvetica, sans-serif";
const INK = "#161616";
const AXIS_X = 45;
const FRAME_RIGHT = 1183;
const PLOT_LEFT = 51;
const PLOT_RIGHT = 1176;
const PX_PER_UNIT = 29.2;
// the page is printed slightly askew: rows drift down to the right, columns drift left going down
const PAGE_SKEW = "matrix(1 0.0115 -0.0064 1 5.12 -6.9)";
// printed text is slightly heavier than a plain regular face
const TEXT_WEIGHT = 0.45;

const LINE_STYLE: Record<string, { dash?: string; width: number }> = {
  Keldsnor: { width: 1.5 },
  Tange: { dash: "1.6 2.4", width: 1.3 },
  Ulborg: { dash: "5.5 3", width: 1.3 },
};

const PANELS = [
  { title: TITLES[0], zeroY: 470, titleX: 578, titleDy: 36, unitDy: 37, series: [ammoniakKeldsnor, ammoniakTange, ammoniakUlborg] },
  { title: TITLES[1], zeroY: 1010, titleX: 587, titleDy: 43, unitDy: 42, series: [ammoniumKeldsnor, ammoniumTange, ammoniumUlborg] },
  { title: TITLES[2], zeroY: 1548, titleX: 580, titleDy: 44, unitDy: 42, series: [nitratKeldsnor, nitratTange, nitratUlborg] },
];

const xScale = d3.scaleLinear().domain([0, 12]).range([PLOT_LEFT, PLOT_RIGHT]);

function UnitLabel({ y }: { y: number }) {
  const common = { fill: INK, stroke: INK, strokeWidth: TEXT_WEIGHT, fontFamily: FONT };
  return (
    <g>
      <text x={71} y={y} fontSize={24} fontStyle="italic" {...common}>µ</text>
      <text x={90} y={y} fontSize={24} {...common}>g</text>
      <text x={109} y={y} fontSize={24} {...common}>N</text>
      <text x={142} y={y} fontSize={24} {...common}>/</text>
      <text x={159} y={y} fontSize={24} {...common}>m</text>
      <text x={196} y={y - 12} fontSize={17} {...common}>3</text>
    </g>
  );
}

function Panel({ p }: { p: (typeof PANELS)[number] }) {
  const y = d3.scaleLinear().domain([0, 15]).range([p.zeroY, p.zeroY - 15 * PX_PER_UNIT]);
  const top = y(15) - 4;
  const axisY = p.zeroY + 6;
  const line = d3
    .line<Pt>()
    .defined((d) => d[1] !== null)
    .x((d) => xScale(d[0]))
    .y((d) => y(d[1] as number));

  const order = [2, 1, 0];
  return (
    <g>
      {/* frame */}
      <path
        d={`M${AXIS_X},${axisY} V${top} H${FRAME_RIGHT} V${axisY} H${AXIS_X}`}
        fill="none"
        stroke={INK}
        strokeWidth={1.4}
      />
      {/* y ticks */}
      {Y_TICKS.map((t) => (
        <g key={t}>
          <line x1={AXIS_X - 5} x2={AXIS_X} y1={y(t)} y2={y(t)} stroke={INK} strokeWidth={1.2} />
          <text x={AXIS_X - 8} y={y(t)} dy="0.36em" textAnchor="end" fontSize={21} fill={INK} stroke={INK} strokeWidth={TEXT_WEIGHT} fontFamily={FONT}>
            {t}
          </text>
        </g>
      ))}
      {/* month ticks */}
      {MONTH_LABELS.map((m, i) => (
        <g key={i}>
          <line x1={xScale(i)} x2={xScale(i)} y1={axisY} y2={axisY + 6} stroke={INK} strokeWidth={1.2} />
          <text x={xScale(i)} y={p.zeroY + 36} textAnchor="middle" fontSize={18} fill={INK} stroke={INK} strokeWidth={TEXT_WEIGHT} fontFamily={FONT}>
            {m}
          </text>
        </g>
      ))}
      {/* series */}
      {order.map((si) => {
        const st = LINE_STYLE[STATIONS[si]];
        return (
          <path
            key={si}
            d={line(p.series[si]) || ""}
            fill="none"
            stroke={INK}
            strokeWidth={st.width}
            strokeDasharray={st.dash}
            strokeLinejoin="round"
          />
        );
      })}
      <UnitLabel y={y(15) + p.unitDy} />
      <text x={p.titleX} y={y(15) + p.titleDy} textAnchor="middle" fontSize={36} fill={INK} stroke={INK} strokeWidth={0.3} fontFamily={FONT} wordSpacing={8}>
        {p.title}
      </text>
    </g>
  );
}

function Legend() {
  const items = [
    { name: STATIONS[0], x0: 305, x1: 360, tx: 375, dash: undefined as string | undefined },
    { name: STATIONS[1], x0: 524, x1: 582, tx: 595, dash: "3 3" },
    { name: STATIONS[2], x0: 741, x1: 798, tx: 811, dash: "6 4" },
  ];
  const ly = 1617;
  return (
    <g>
      {items.map((it) => (
        <g key={it.name}>
          <line x1={it.x0} x2={it.x1} y1={ly} y2={ly} stroke={INK} strokeWidth={1} strokeDasharray={it.dash} />
          <text x={it.tx} y={ly + 11} fontSize={24} fill={INK} stroke={INK} strokeWidth={0.3} fontFamily={FONT}>
            {it.name}
          </text>
        </g>
      ))}
    </g>
  );
}

export default function App() {
  return (
    <svg
      width={W}
      height={H}
      viewBox={`0 0 ${W} ${H}`}
      style={{ position: "absolute", left: 0, top: 0, background: "#fff" }}
    >
      <rect width={W} height={H} fill="#fff" />
      <g transform={PAGE_SKEW}>
        {PANELS.map((p, i) => (
          <Panel key={i} p={p} />
        ))}
        <Legend />
      </g>
    </svg>
  );
}
